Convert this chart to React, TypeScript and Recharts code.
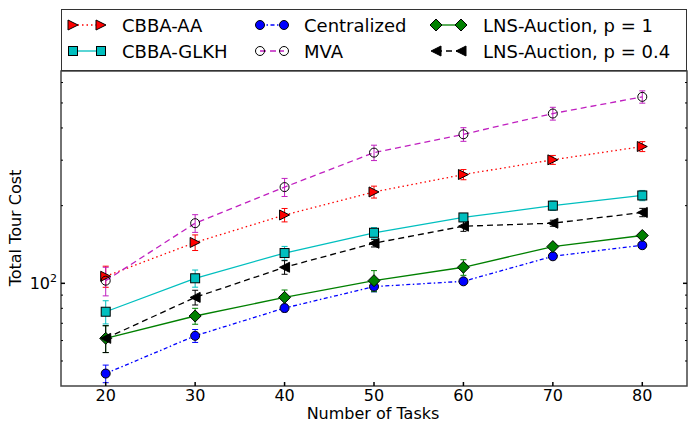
import { LineChart, Line, XAxis, YAxis, ErrorBar, ReferenceArea } from 'recharts'

// values (log y axis)
const tasks = [20, 30, 40, 50, 60, 70, 80]
const cbbaAA = [106.5, 144, 184, 226, 264, 301, 339]
const cbbaAAErr = [10, 10, 11, 12, 12, 12, 15]
const cbbaGLKH = [77.6, 104.6, 131, 157, 180, 200, 219]
const cbbaGLKHErr = [8, 8, 8, 7.5, 6.5, 8.5, 10]
const centralized = [44.7, 62.6, 80.2, 97.1, 101.8, 127.3, 140.5]
const centralizedErr = [3.5, 3.6, 2.7, 4.4, 2, 2.3, 2.5]
const mva = [102.4, 171, 236, 321, 378, 455, 528]
const mvaErr = [13, 13.5, 19, 22, 23, 26, 29]
const lnsP1 = [61.2, 74.7, 88.2, 102.4, 115.4, 138.8, 153.2]
const lnsP1Err = [7.3, 5.3, 6, 9.6, 8, 3.7, 4]
const lnsP04 = [61.2, 88.2, 115.4, 143, 166.5, 171, 188.2]
const lnsP04Err = [7.3, 5.8, 7, 4.7, 7.5, 4.6, 7]

const xTicks = [20, 30, 40, 50, 60, 70, 80]
const yTicks = [50, 60, 70, 80, 90, 100, 200, 300, 400, 500, 600]

const W = 700
const H = 423
const MARGIN = { top: 71, right: 13, bottom: 7, left: 11 }
const Y_AXIS_W = 50
const X_AXIS_H = 30
const PLOT_W = W - MARGIN.left - MARGIN.right - Y_AXIS_W
const FONT = '"DejaVu Sans", sans-serif'

type MarkerKind = 'triRight' | 'triLeft' | 'square' | 'circle' | 'diamond'

interface Series {
  key: string
  name: string
  color: string
  markerFill: string
  dash?: string
  marker: MarkerKind
  values: number[]
  errors: number[]
}

const series: Series[] = [
  { key: 'cbbaAA', name: 'CBBA-AA', color: '#ff0000', markerFill: '#ff0000', dash: '1.5 3', marker: 'triRight', values: cbbaAA, errors: cbbaAAErr },
  { key: 'cbbaGLKH', name: 'CBBA-GLKH', color: '#00bfbf', markerFill: '#00bfbf', marker: 'square', values: cbbaGLKH, errors: cbbaGLKHErr },
  { key: 'centralized', name: 'Centralized', color: '#0000ff', markerFill: '#0000ff', dash: '4 2.5 1.5 2.5', marker: 'circle', values: centralized, errors: centralizedErr },
  { key: 'mva', name: 'MVA', color: '#c020c0', markerFill: 'none', dash: '6 4', marker: 'circle', values: mva, errors: mvaErr },
  { key: 'lnsP1', name: 'LNS-Auction, p = 1', color: '#008000', markerFill: '#008000', marker: 'diamond', values: lnsP1, errors: lnsP1Err },
  { key: 'lnsP04', name: 'LNS-Auction, p = 0.4', color: '#000000', markerFill: '#000000', dash: '6 4', marker: 'triLeft', values: lnsP04, errors: lnsP04Err },
]

const data = tasks.map((t, i) => {
  const row: Record<string, number> = { tasks: t }
  series.forEach((s) => {
    row[s.key] = s.values[i]
    row[s.key + 'Err'] = s.errors[i]
  })
  return row
})

function Marker({ kind, cx, cy, fill }: { kind: MarkerKind; cx: number; cy: number; fill: string }) {
  const common = { fill, stroke: '#000', strokeWidth: 1 }
  switch (kind) {
    case 'triRight':
      return <polygon points={`${cx + 5},${cy} ${cx - 5},${cy - 5} ${cx - 5},${cy + 5}`} {...common} />
    case 'triLeft':
      return <polygon points={`${cx - 5},${cy} ${cx + 5},${cy - 5} ${cx + 5},${cy + 5}`} {...common} />
    case 'square':
      return <rect x={cx - 4.5} y={cy - 4.5} width={9} height={9} {...common} />
    case 'diamond':
      return <polygon points={`${cx},${cy - 6} ${cx + 6},${cy} ${cx},${cy + 6} ${cx - 6},${cy}`} {...common} />
    default:
      return <circle cx={cx} cy={cy} r={4.5} {...common} />
  }
}

function XTick({ x, y, payload }: any) {
  return (
    <g>
      <line x1={x} x2={x} y1={y} y2={y - 4} stroke="#000" strokeWidth={1.5} />
      <text x={x} y={y + 15} textAnchor="middle" fontSize={16} fontFamily={FONT} fill="#000">
        {payload.value}
      </text>
    </g>
  )
}

function YTick({ x, y, payload }: any) {
  const major = payload.value === 100
  const len = major ? 4 : 2
  return (
    <g>
      <line x1={x} x2={x + len} y1={y} y2={y} stroke="#000" strokeWidth={major ? 1.5 : 1} />
      <line x1={x + PLOT_W - len} x2={x + PLOT_W} y1={y} y2={y} stroke="#000" strokeWidth={major ? 1.5 : 1} />
      {major && (
        <text x={x - 4} y={y + 6} textAnchor="end" fontSize={16} fontFamily={FONT} fill="#000">
          10<tspan dy={-7} fontSize={11}>2</tspan>
        </text>
      )}
    </g>
  )
}

// legend layout: three columns, two rows (matplotlib ncol=3 fills columns first)
const legendCols = [
  { m1: 73, m2: 101, text: 122 },
  { m1: 260, m2: 284, text: 304 },
  { m1: 436, m2: 461, text: 483 },
]
const legendRows = [25, 51]

function Overlay() {
  return (
    <svg width={W} height={H} style={{ position: 'absolute', left: 0, top: 0, pointerEvents: 'none' }}>
      <rect x={61.5} y={9.5} width={625} height={61} fill="#fff" stroke="#333" strokeWidth={1} />
      {series.map((s, i) => {
        const col = legendCols[Math.floor(i / 2)]
        const y = legendRows[i % 2]
        return (
          <g key={s.key}>
            <line x1={col.m1} x2={col.m2} y1={y} y2={y} stroke={s.color} strokeWidth={1.3} strokeDasharray={s.dash} />
            <Marker kind={s.marker} cx={col.m1} cy={y} fill={s.markerFill} />
            <Marker kind={s.marker} cx={col.m2} cy={y} fill={s.markerFill} />
            <text x={col.text} y={y + 6.5} fontSize={18} fontFamily={FONT} fill="#000">
              {s.name}
            </text>
          </g>
        )
      })}
      <text x={373} y={419} textAnchor="middle" fontSize={16} fontFamily={FONT} fill="#000">
        Number of Tasks
      </text>
      <text x={21} y={228} textAnchor="middle" fontSize={16} fontFamily={FONT} fill="#000" transform="rotate(-90 21 228)">
        Total Tour Cost
      </text>
    </svg>
  )
}

export default function App() {
  return (
    <div style={{ position: 'absolute', left: 0, top: 0, width: W, height: H, background: '#fff' }}>
      <LineChart width={W} height={H} data={data} margin={MARGIN}>
        <XAxis
          dataKey="tasks"
          type="number"
          domain={[15, 85]}
          ticks={xTicks}
          allowDataOverflow
          height={X_AXIS_H}
          axisLine={false}
          tickLine={false}
          tickSize={0}
          tickMargin={0}
          tick={<XTick />}
        />
        <YAxis
          type="number"
          scale="log"
          domain={[40, 665]}
          ticks={yTicks}
          allowDataOverflow
          width={Y_AXIS_W}
          axisLine={false}
          tickLine={false}
          tickSize={0}
          tickMargin={0}
          interval={0}
          tick={<YTick />}
        />
        <ReferenceArea x1={15} x2={85} y1={40} y2={665} fill="none" stroke="#444" strokeWidth={1.5} ifOverflow="visible" />
        {series.map((s) => (
          <Line
            key={s.key}
            dataKey={s.key}
            name={s.name}
            stroke={s.color}
            strokeWidth={1.3}
            strokeDasharray={s.dash}
            isAnimationActive={false}
            dot={(p: any) => <Marker key={p.index} kind={s.marker} cx={p.cx} cy={p.cy} fill={s.markerFill} />}
          >
            <ErrorBar dataKey={s.key + 'Err'} width={3} stroke={s.color} strokeWidth={1} direction="y" isAnimationActive={false} />
          </Line>
        ))}
      </LineChart>
      <Overlay />
    </div>
  )
}
